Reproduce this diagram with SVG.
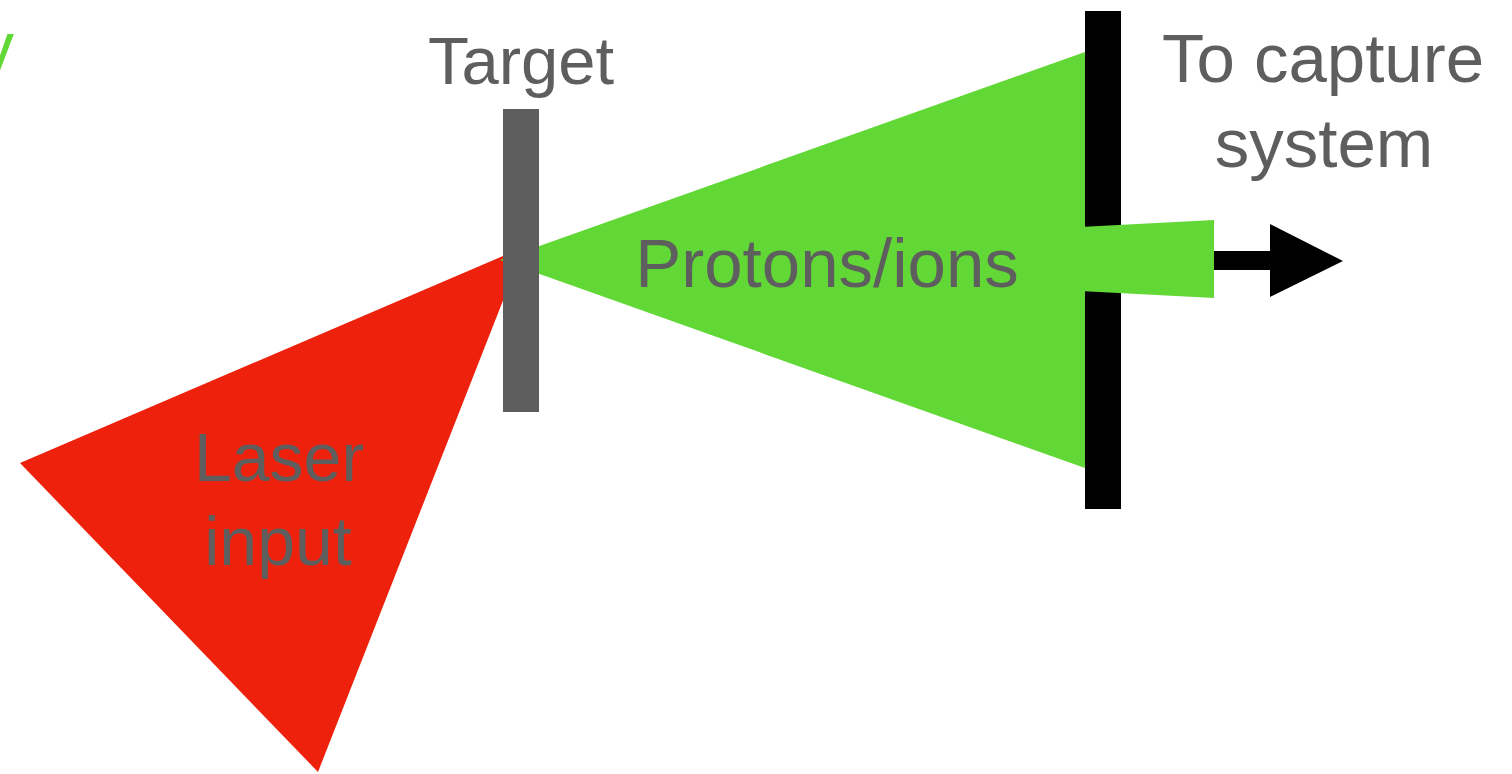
<svg xmlns="http://www.w3.org/2000/svg" width="1512" height="774" viewBox="0 0 1512 774">
<style>
.lbl{font-family:"Liberation Sans",Arial,Helvetica,sans-serif;fill:#5E5E5E;text-anchor:middle}
.green{fill:#61D836}
.red{fill:#EE220C}
</style>
<rect width="1512" height="774" fill="#FFFFFF"/>
<text x="-21" y="71" font-family="Liberation Sans, Arial, sans-serif" font-size="70" fill="#61D836">y</text>
<g id="laser">
<polygon class="red" points="20,463 524,247 318,772"/>
<text class="lbl" x="279" y="481" font-size="68">Laser</text>
<text class="lbl" x="278" y="565" font-size="68">input</text>
</g>
<g id="protons">
<polygon class="green" points="500,260 1085,52 1085,468"/>
<text class="lbl" x="827" y="287" font-size="69">Protons/ions</text>
</g>
<g id="target">
<rect x="503" y="109" width="36" height="303" fill="#5E5E5E"/>
<text class="lbl" x="521" y="84" font-size="67">Target</text>
</g>
<g id="capture">
<rect x="1085" y="11" width="36" height="498" fill="#000000"/>
<polygon class="green" points="1080,227 1214,220 1214,298 1080,291"/>
<text class="lbl" x="1323" y="82" font-size="69">To capture</text>
<text class="lbl" x="1324" y="167" font-size="69">system</text>
</g>
<g id="connectors">
<rect x="1214" y="251" width="58" height="19" fill="#000000"/>
<polygon points="1270,224 1343,261 1270,297" fill="#000000"/>
</g>
</svg>
